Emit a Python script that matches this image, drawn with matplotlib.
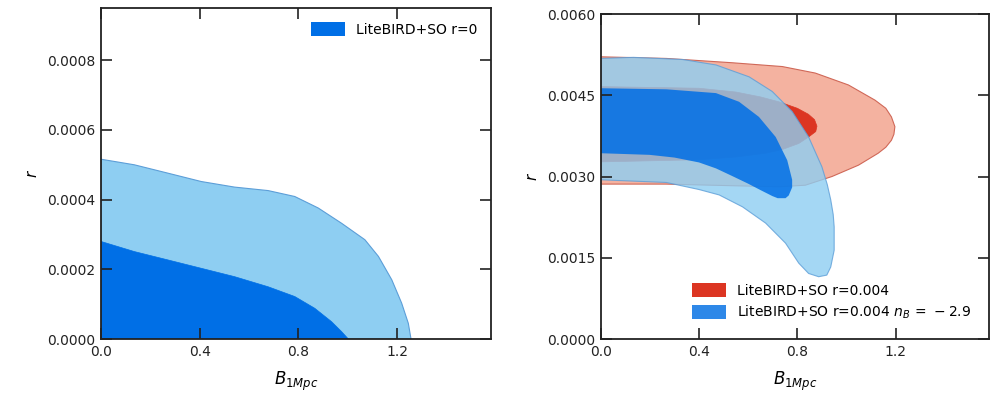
import matplotlib.pyplot as plt
from matplotlib.patches import Patch

# ----------------------------------------------------------------------------
# Contour boundaries (B_1Mpc, r)
# ----------------------------------------------------------------------------

# Left panel: LiteBIRD+SO r=0
r0_outer_B = [0.0, 0.0, 0.135, 0.271, 0.406, 0.541, 0.677, 0.785, 0.880, 0.975,
              1.069, 1.124, 1.178, 1.218, 1.245, 1.256]
r0_outer_r = [0.0, 0.000516, 0.000500, 0.000476, 0.000452, 0.000436, 0.000426,
              0.000409, 0.000376, 0.000332, 0.000285, 0.000237, 0.000170,
              0.000103, 0.000045, 0.0]
r0_inner_B = [0.0, 0.0, 0.135, 0.271, 0.406, 0.541, 0.677, 0.785, 0.866, 0.934,
              0.975, 1.002]
r0_inner_r = [0.0, 0.000280, 0.000251, 0.000227, 0.000203, 0.000179, 0.000150,
              0.000122, 0.0000882, 0.0000498, 0.000021, 0.0]

# Right panel: LiteBIRD+SO r=0.004 (red)
red_outer_B = [0.0, 0.0, 0.267, 0.536, 0.739, 0.873, 1.008, 1.116, 1.160,
               1.183, 1.197, 1.193, 1.183, 1.160, 1.129, 1.049, 0.941, 0.833,
               0.725, 0.536, 0.267, 0.0]
red_outer_r = [0.00286, 0.00521, 0.00518, 0.00510, 0.00503, 0.00491, 0.00469,
               0.00441, 0.00426, 0.00410, 0.00392, 0.00378, 0.00367, 0.00354,
               0.00343, 0.00321, 0.00300, 0.00284, 0.00281, 0.00283, 0.00286,
               0.00286]
red_inner_B = [0.0, 0.0, 0.40, 0.55, 0.65, 0.725, 0.80, 0.845, 0.870, 0.880,
               0.875, 0.846, 0.806, 0.74, 0.671, 0.55, 0.40, 0.0]
red_inner_r = [0.00327, 0.00466, 0.00463, 0.00456, 0.00447, 0.00438, 0.00426,
               0.00415, 0.00405, 0.00393, 0.00383, 0.00373, 0.00361, 0.00350,
               0.00343, 0.00336, 0.00331, 0.00327]

# Right panel: LiteBIRD+SO r=0.004 n_B=-2.9 (blue)
blue_outer_B = [0.0, 0.0, 0.133, 0.334, 0.469, 0.604, 0.698, 0.779, 0.846,
                0.900, 0.922, 0.936, 0.946, 0.950, 0.950, 0.936, 0.920, 0.887,
                0.846, 0.806, 0.752, 0.671, 0.577, 0.482, 0.40, 0.267, 0.0]
blue_outer_r = [0.00294, 0.00518, 0.00520, 0.00516, 0.00506, 0.00484, 0.00457,
                0.00420, 0.00373, 0.00318, 0.00285, 0.00257, 0.00230, 0.00207,
                0.00164, 0.00133, 0.00118, 0.00115, 0.00121, 0.00140, 0.00177,
                0.00214, 0.00244, 0.00266, 0.00276, 0.00289, 0.00294]
blue_inner_B = [0.0, 0.0, 0.267, 0.469, 0.563, 0.644, 0.712, 0.759, 0.779,
                0.779, 0.765, 0.752, 0.720, 0.698, 0.650, 0.599, 0.530, 0.469,
                0.400, 0.300, 0.199, 0.0]
blue_inner_r = [0.00343, 0.00463, 0.00461, 0.00454, 0.00438, 0.00410, 0.00373,
                0.00330, 0.00294, 0.00280, 0.00265, 0.00260, 0.00260, 0.00264,
                0.00275, 0.00287, 0.00302, 0.00315, 0.00326, 0.00335, 0.00340,
                0.00343]

# Axis ticks
x_ticks = [0.0, 0.4, 0.8, 1.2]
left_y_ticks = [0.0, 0.0002, 0.0004, 0.0006, 0.0008]
right_y_ticks = [0.0, 0.0015, 0.0030, 0.0045, 0.0060]

# Colours
BLUE_DARK = '#006FE6'
BLUE_LIGHT = '#8ECEF2'
BLUE_EDGE = '#5C9ED8'
RED_DARK = '#DC3522'
RED_LIGHT = '#F4B2A0'
RED_EDGE = '#D06858'

plt.rcParams['font.family'] = 'DejaVu Sans'
plt.rcParams['mathtext.fontset'] = 'dejavusans'


def style_axes(ax, yticks, ylim):
    ax.set_xlim(0, 1.58)
    ax.set_ylim(*ylim)
    ax.set_xticks(x_ticks)
    ax.set_xticklabels([f'{t:.1f}' for t in x_ticks])
    ax.set_yticks(yticks)
    ax.set_yticklabels([f'{t:.4f}' for t in yticks])
    ax.tick_params(direction='in', length=8, width=1.2, top=True, right=True,
                   labelsize=10, colors='#222222', pad=4)
    for s in ax.spines.values():
        s.set_linewidth(1.3)
        s.set_color('#222222')
    ax.set_xlabel(r'$B_{1Mpc}$', fontsize=12, labelpad=8)
    ax.set_ylabel(r'$r$', fontsize=11, labelpad=5)


fig = plt.figure(figsize=(9.99, 3.96), dpi=100)

# ---------------------------------------------------------------------------
# Left panel
# ---------------------------------------------------------------------------
ax1 = fig.add_axes([0.1011, 0.1439, 0.3904, 0.8359])
ax1.fill(r0_outer_B, r0_outer_r, facecolor=BLUE_LIGHT, edgecolor=BLUE_EDGE,
         linewidth=0.8)
ax1.fill(r0_inner_B, r0_inner_r, facecolor=BLUE_DARK, edgecolor=BLUE_DARK,
         linewidth=0.5)
style_axes(ax1, left_y_ticks, (0, 0.00095))
ax1.legend(handles=[Patch(facecolor=BLUE_DARK, label='LiteBIRD+SO r=0')],
           loc='upper right', frameon=False, fontsize=10,
           handlelength=2.4, handleheight=1.2, borderaxespad=0.6)

# ---------------------------------------------------------------------------
# Right panel
# ---------------------------------------------------------------------------
ax2 = fig.add_axes([0.6013, 0.1439, 0.3887, 0.8207])
ax2.fill(red_outer_B, red_outer_r, facecolor=RED_LIGHT, edgecolor=RED_EDGE,
         linewidth=0.8)
ax2.fill(red_inner_B, red_inner_r, facecolor=RED_DARK, edgecolor=RED_DARK,
         linewidth=0.5)
ax2.fill(blue_outer_B, blue_outer_r, facecolor=BLUE_LIGHT, alpha=0.8,
         edgecolor=BLUE_EDGE, linewidth=0.8)
ax2.fill(blue_inner_B, blue_inner_r, facecolor=BLUE_DARK, alpha=0.85,
         edgecolor='none')
style_axes(ax2, right_y_ticks, (0, 0.006))
ax2.legend(handles=[Patch(facecolor=RED_DARK, label='LiteBIRD+SO r=0.004'),
                    Patch(facecolor='#2E88E8',
                          label=r'LiteBIRD+SO r=0.004 $n_B\,=\,-2.9$')],
           loc='lower right', frameon=False, fontsize=10,
           handlelength=2.4, handleheight=1.2, borderaxespad=0.9,
           labelspacing=0.4)

fig.savefig('out.png', dpi=100)
